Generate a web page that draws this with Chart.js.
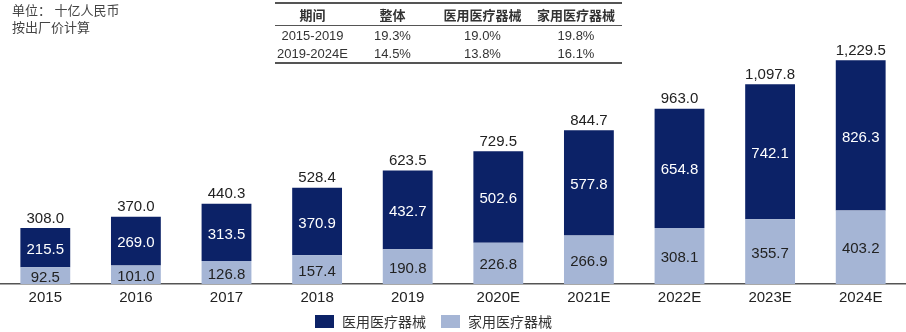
<!DOCTYPE html>
<html>
<head>
<meta charset="utf-8">
<script src="https://cdn.jsdelivr.net/npm/chart.js@4"></script>
<style>
body{margin:0;background:#fff;font-family:"Liberation Sans",Arial,"Noto Sans CJK SC",sans-serif;}
#wrap{position:relative;width:906px;height:332px;}
#unit{position:absolute;left:12px;top:2px;font-size:13px;line-height:17px;color:#444;font-family:"Liberation Sans","Noto Sans CJK SC",sans-serif;}
#tbl{position:absolute;left:275px;top:2px;width:347px;border-collapse:collapse;font-size:13px;color:#333;
 border-top:2px solid #555;border-bottom:2px solid #555;}
#tbl th{font-weight:bold;height:21px;padding:0;border-bottom:1.5px solid #555;font-family:"Noto Sans CJK SC",sans-serif;font-size:13px;line-height:15px;}
#tbl td{text-align:center;height:18px;padding:0;}
#legend{position:absolute;top:311px;left:315px;font-size:14px;line-height:20px;color:#333;display:flex;align-items:center;font-family:"Noto Sans CJK SC",sans-serif;}
#legend span.b{display:inline-block;width:19px;height:13px;margin-right:8px;}
</style>
</head>
<body>
<div id="wrap">
<canvas id="c" width="906" height="332"></canvas>
<div id="unit">单位： 十亿人民币<br>按出厂价计算</div>
<table id="tbl">
<tr><th style="width:75px">期间</th><th style="width:85px">整体</th><th style="width:95px">医用医疗器械</th><th>家用医疗器械</th></tr>
<tr><td>2015-2019</td><td>19.3%</td><td>19.0%</td><td>19.8%</td></tr>
<tr><td>2019-2024E</td><td>14.5%</td><td>13.8%</td><td>16.1%</td></tr>
</table>
<div id="legend"><span class="b" style="background:#0c2267"></span>医用医疗器械<span class="b" style="background:#a5b5d5;margin-left:15px"></span>家用医疗器械</div>
</div>
<script>
var years = ["2015","2016","2017","2018","2019","2020E","2021E","2022E","2023E","2024E"];
var home = [92.5,101.0,126.8,157.4,190.8,226.8,266.9,308.1,355.7,403.2];
var medical = [215.5,269.0,313.5,370.9,432.7,502.6,577.8,654.8,742.1,826.3];
var totals = [308.0,370.0,440.3,528.4,623.5,729.5,844.7,963.0,1097.8,1229.5];

var fmt = function(v){
  return v.toLocaleString('en-US',{minimumFractionDigits:1,maximumFractionDigits:1});
};

var labelPlugin = {
  id:'labels',
  afterDatasetsDraw: function(chart){
    var ctx = chart.ctx;
    ctx.save();
    ctx.font = '15px "Liberation Sans", Arial, sans-serif';
    ctx.textAlign = 'center';
    ctx.textBaseline = 'middle';
    chart.data.datasets.forEach(function(ds, i){
      var meta = chart.getDatasetMeta(i);
      meta.data.forEach(function(bar, j){
        ctx.fillStyle = i == 0 ? '#222' : '#fff';
        ctx.fillText(fmt(ds.data[j]), bar.x, (bar.y + bar.base)/2 + 2);
      });
    });
    var top = chart.getDatasetMeta(1);
    ctx.fillStyle = '#222';
    ctx.textBaseline = 'bottom';
    top.data.forEach(function(bar, j){
      ctx.fillText(fmt(totals[j]), bar.x, bar.y - 2);
    });
    ctx.restore();
  }
};

var c = document.getElementById('c').getContext('2d');
var chart = new Chart(c, {
  type:'bar',
  data:{
    labels: years,
    datasets:[
      {label:'家用医疗器械', data: home, backgroundColor:'#a5b5d5', barPercentage:0.55, categoryPercentage:1},
      {label:'医用医疗器械', data: medical, backgroundColor:'#0c2267', barPercentage:0.55, categoryPercentage:1}
    ]
  },
  options:{
    responsive:false,
    animation:false,
    layout:{padding:{left:0,right:0,top:0,bottom:20}},
    plugins:{legend:{display:false},tooltip:{enabled:false}},
    scales:{
      x:{stacked:true, grid:{display:false,drawTicks:false}, border:{color:'#555',width:1.5},
         ticks:{color:'#222',font:{size:15,family:'"Liberation Sans", Arial, sans-serif'},padding:5}},
      y:{stacked:true, display:false, min:0, max:1560}
    }
  },
  plugins:[labelPlugin]
});
</script>
</body>
</html>
